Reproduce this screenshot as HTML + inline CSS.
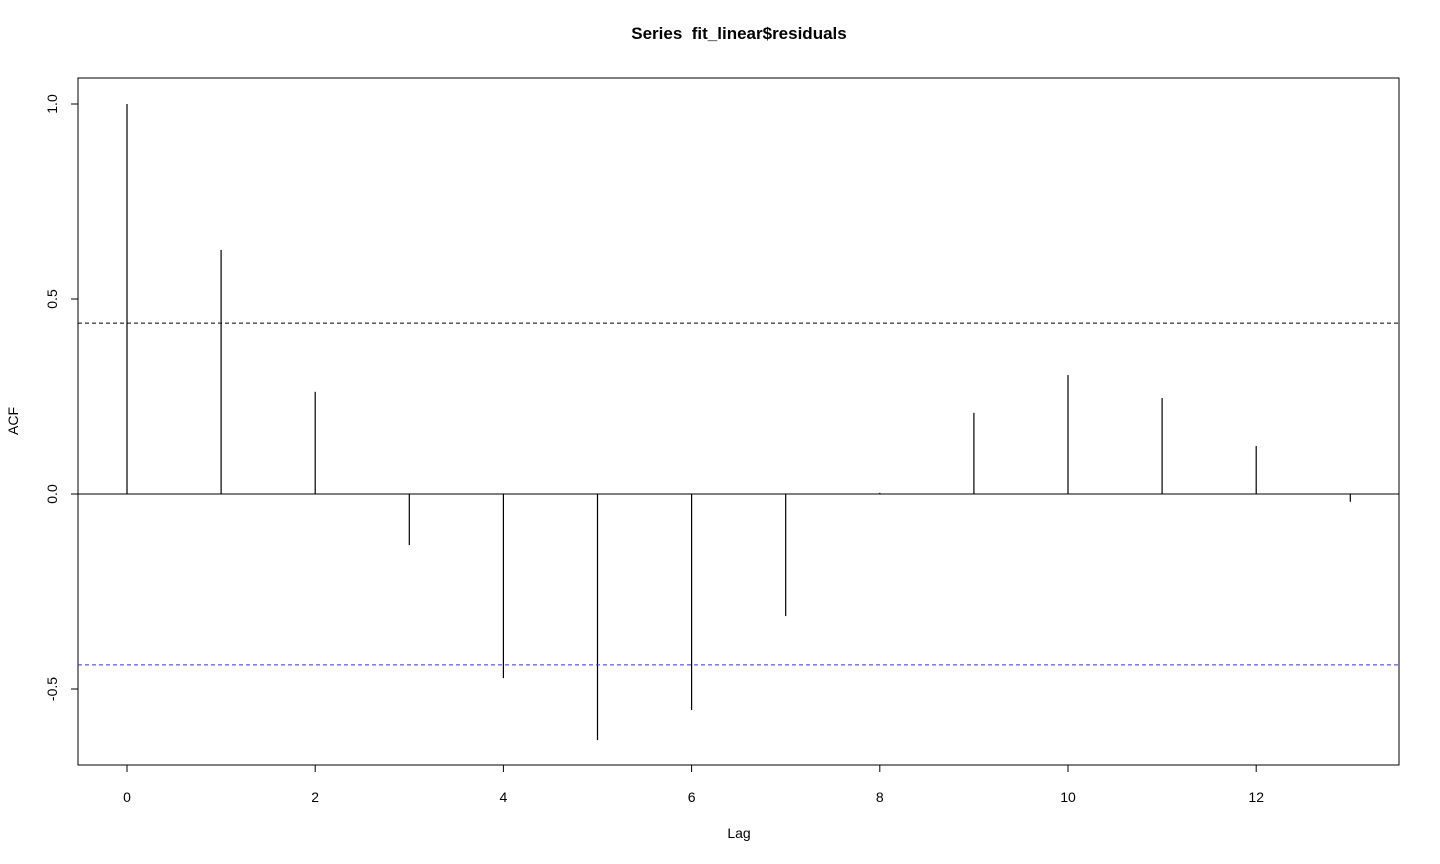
<!DOCTYPE html>
<html><head><meta charset="utf-8"><style>
html,body{margin:0;padding:0;background:#fff;}
svg{display:block;font-family:"Liberation Sans",Arial,sans-serif;}
</style></head><body>
<svg id="chart" width="1440" height="864" xmlns="http://www.w3.org/2000/svg">
<text x="739" y="39" text-anchor="middle" font-size="17" font-weight="bold">Series&#160; fit_linear$residuals</text>
<rect x="78" y="78" width="1321" height="687" fill="none" stroke="#000" stroke-width="1"/>
<g id="xaxis"></g>
<g id="yaxis"></g>
<g id="marks"></g>
<text x="739" y="838" text-anchor="middle" font-size="14">Lag</text>
<text transform="translate(18,421) rotate(-90)" text-anchor="middle" font-size="14">ACF</text>
</svg>
<script>
const lags = [0,1,2,3,4,5,6,7,8,9,10,11,12,13];
const acfValues = [1.0,0.626,0.262,-0.131,-0.472,-0.631,-0.554,-0.313,0.003,0.208,0.305,0.246,0.123,-0.02];
const ciBound = [0.438];
const xTicks = [0,2,4,6,8,10,12];
const yTicks = [-0.5,0.0,0.5,1.0];
const yTickLabels = ["-0.5","0.0","0.5","1.0"];

const NS="http://www.w3.org/2000/svg";
function xs(v){return 127+v*94.1;}
function ys(v){return 494-v*390;}
function mk(tag,attrs,parent){const e=document.createElementNS(NS,tag);for(const k in attrs)e.setAttribute(k,attrs[k]);parent.appendChild(e);return e;}
const xa=document.getElementById('xaxis'),ya=document.getElementById('yaxis'),m=document.getElementById('marks');
mk('line',{x1:xs(xTicks[0]),x2:xs(xTicks[xTicks.length-1]),y1:765,y2:765,stroke:'#000'},xa);
xTicks.forEach(t=>{
  const l=mk('line',{x1:xs(t),x2:xs(t),y1:765,y2:772,stroke:'#000'},xa);
  
  
  const tx=mk('text',{x:xs(t),y:802,'text-anchor':'middle','font-size':14},xa);
  tx.textContent=t;
  
  
});
mk('line',{x1:78,x2:78,y1:ys(yTicks[0]),y2:ys(yTicks[yTicks.length-1]),stroke:'#000'},ya);
yTicks.forEach((t,i)=>{
  const l=mk('line',{x1:71,x2:78,y1:ys(t),y2:ys(t),stroke:'#000'},ya);
  
  
  const tx=mk('text',{transform:`translate(57,${ys(t)}) rotate(-90)`,'text-anchor':'middle','font-size':14},ya);
  tx.textContent=yTickLabels[i];
  
  
});
const zero=mk('line',{x1:78,x2:1399,y1:ys(0),y2:ys(0),stroke:'#000'},m);


lags.forEach((lg,i)=>{
  const b=mk('line',{x1:xs(lg),x2:xs(lg),y1:ys(0),y2:ys(acfValues[i]),stroke:'#000','stroke-width':1.2},m);
  
  
});
const up=mk('line',{x1:78,x2:1399,y1:ys(ciBound[0]),y2:ys(ciBound[0]),stroke:'#000','stroke-dasharray':'4,3'},m);


const lo=mk('line',{x1:78,x2:1399,y1:ys(-ciBound[0]),y2:ys(-ciBound[0]),stroke:'#3333ee','stroke-dasharray':'4,3'},m);


</script>
</body></html>
